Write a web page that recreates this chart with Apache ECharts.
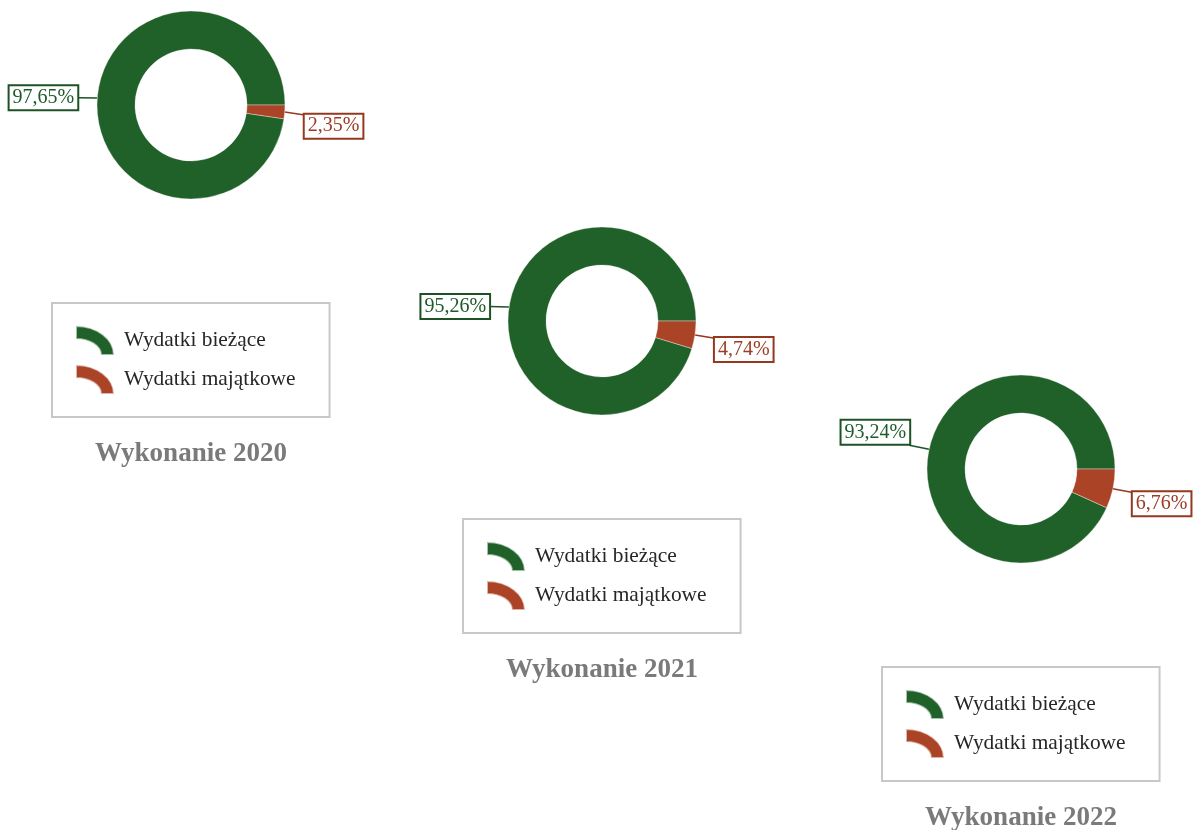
<!DOCTYPE html>
<html>
<head>
<meta charset="utf-8">
<script src="https://cdn.jsdelivr.net/npm/echarts@6/dist/echarts.min.js"></script>
<style>
html,body{margin:0;padding:0;background:#fff;}
#main{width:1196px;height:830px;}
</style>
</head>
<body>
<div id="main"></div>
<script>
// dane
var years = ['2020', '2021', '2022'];
var categories = ['Wydatki bieżące', 'Wydatki majątkowe'];
var biezace = [97.65, 95.26, 93.24];
var majatkowe = [2.35, 4.74, 6.76];

// uklad: srodki wykresow i przesuniecia etykiet (dy) [biezace, majatkowe]
var centers = [[191, 105], [602, 321], [1021, 469]];
var labelShift = [[0, 14], [0, 14], [-16, 14]];
var colors = ['#1f6129', '#ab4426'];
var labelColors = ['#1f5a2a', '#9c3c24'];
var borderColors = ['#1c5226', '#94391f'];
var font = '"Liberation Serif", "Times New Roman", serif';
var arcIcon = 'path://M0,0 A38,29 0 0 1 38,29 L25,29 A25,16 0 0 0 0,13 Z';

function fmt(v) {
	return v.toFixed(2).replace('.', ',') + '%';
}

var series = [];
var legends = [];
var titles = [];

for (var i = 0; i < years.length; i++) {
	var cx = centers[i][0], cy = centers[i][1];
	var values = [biezace[i], majatkowe[i]];
	var data = [];
	for (var j = 0; j < categories.length; j++) {
		data.push({
			name: categories[j],
			value: values[j],
			itemStyle: { color: colors[j] },
			label: { color: labelColors[j], borderColor: borderColors[j] },
			labelLine: { lineStyle: { color: borderColors[j] } }
		});
	}
	series.push({
		type: 'pie',
		center: [cx, cy],
		radius: [56, 94],
		startAngle: 0,
		clockwise: false,
		avoidLabelOverlap: false,
		itemStyle: { borderColor: 'rgba(255,255,255,0.6)', borderWidth: 0.6 },
		label: {
			show: true,
			position: 'outside',
			alignTo: 'none',
			formatter: function (p) { return fmt(p.value); },
			fontFamily: font,
			fontSize: 20,
			backgroundColor: '#fff',
			borderWidth: 2,
			padding: [2, 3, 1, 3],
			distanceToLabelLine: 0
		},
		labelLine: { show: true, length: 4, length2: 16, lineStyle: { width: 1.5 } },
		labelLayout: (function (shift) {
			return function (p) {
				var pts = p.labelLinePoints;
				if (!pts) return {};
				var dy = shift[p.dataIndex];
				// prosta linia od krawedzi pierscienia do ramki etykiety
				return {
					dy: dy,
					labelLinePoints: [pts[0], [pts[pts.length - 1][0], pts[pts.length - 1][1] + dy * 0.2]]
				};
			};
		})(labelShift[i]),
		emphasis: { disabled: true },
		data: data
	});
	legends.push({
		data: categories,
		orient: 'vertical',
		left: cx - 139,
		top: cy + 198,
		icon: arcIcon,
		itemWidth: 38,
		itemHeight: 29,
		itemGap: 8,
		selectedMode: false,
		borderColor: '#c8c8c8',
		borderWidth: 2,
		padding: [22, 34, 22, 23],
		textStyle: { fontFamily: font, fontSize: 21.4, color: '#262626', padding: [0, 0, 0, 5] }
	});
	titles.push({
		text: 'Wykonanie ' + years[i],
		left: cx,
		top: cy + 336,
		textAlign: 'center',
		padding: 0,
		textStyle: { fontFamily: font, fontSize: 27, fontWeight: 'bold', color: '#7a7a7a' }
	});
}

var chart = echarts.init(document.getElementById('main'));
chart.setOption({
	animation: false,
	color: colors,
	title: titles,
	legend: legends,
	series: series
});
</script>
</body>
</html>
